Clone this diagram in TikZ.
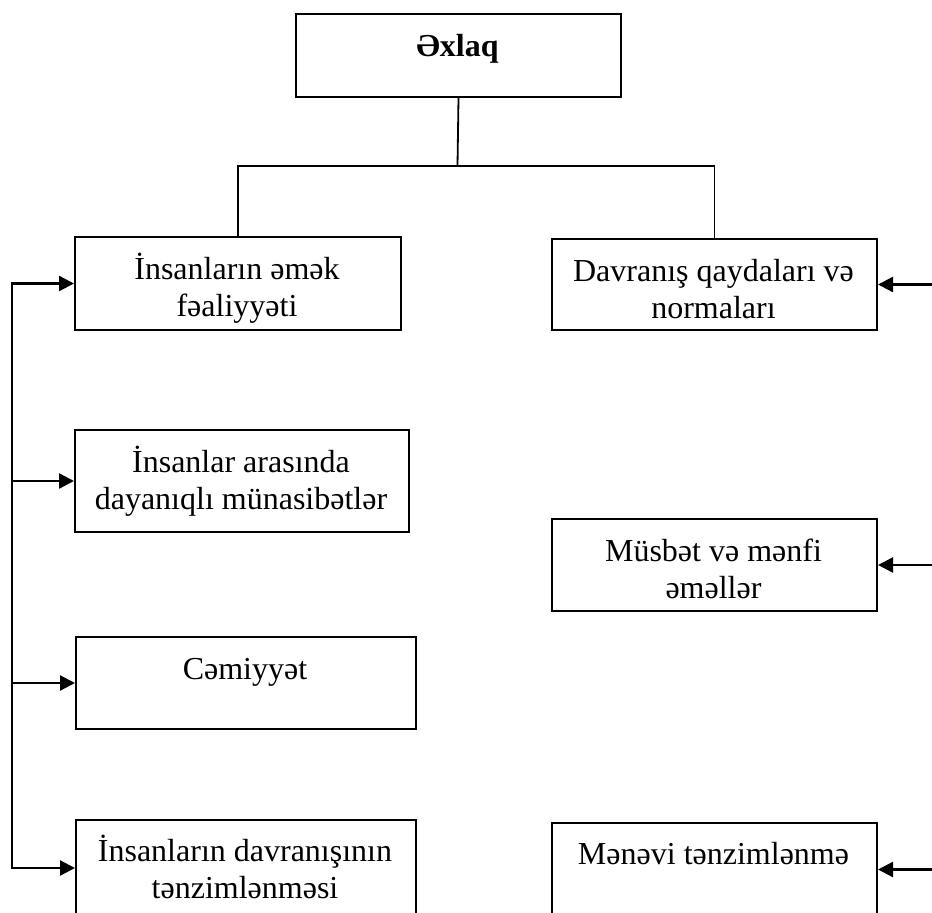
\documentclass[tikz,border=0pt]{standalone}
\usepackage{fontspec}
\setmainfont{Liberation Serif}
\usetikzlibrary{arrows.meta}
\begin{document}
\begin{tikzpicture}[x=1pt,y=-1pt,
  box/.style={draw, line width=2pt, anchor=north west, inner sep=0pt},
  lbl/.style={anchor=base, inner sep=0pt, align=center, font=\fontsize{32}{37}\selectfont},
  tree/.style={line width=1.8pt},
  spine/.style={line width=2.3pt, line cap=rect},
  arr/.style={line width=2.3pt, line cap=rect, -{Triangle[length=15pt,width=15pt]}}]
\useasboundingbox (0,0) rectangle (932,913);
% boxes (two-line labels are placed by the baseline of their last line)
\node[box, minimum width=325pt, minimum height=83pt] (top) at (295,13) {};
\node[lbl, font=\fontsize{32}{37}\selectfont\bfseries] (topt) at (457.5,56) {Əxlaq};

\node[box, minimum width=326pt, minimum height=93pt] (l1) at (74,236) {};
\node[lbl] (l1t) at (237,316) {İnsanların əmək\\fəaliyyəti};

\node[box, minimum width=325pt, minimum height=91pt] (r1) at (551,238) {};
\node[lbl] (r1t) at (713.5,318) {Davranış qaydaları və\\normaları};

\node[box, minimum width=334pt, minimum height=102pt] (l2) at (74,429) {};
\node[lbl] (l2t) at (241,509) {İnsanlar arasında\\dayanıqlı münasibətlər};

\node[box, minimum width=325pt, minimum height=92pt] (r2) at (551,518) {};
\node[lbl] (r2t) at (713.5,598) {Müsbət və mənfi\\əməllər};

\node[box, minimum width=340pt, minimum height=92pt] (l3) at (75,636) {};
\node[lbl] (l3t) at (245,679) {Cəmiyyət};

\node[box, minimum width=340pt, minimum height=96pt] (l4) at (75,819) {};
\node[lbl] (l4t) at (245,898) {İnsanların davranışının\\tənzimlənməsi};

\node[box, minimum width=325pt, minimum height=93pt] (r3) at (551,822) {};
\node[lbl] (r3t) at (713.5,864) {Mənəvi tənzimlənmə};

% tree connectors
\coordinate (j) at (457.5,166);
\draw[tree] (top.south) -- (j);
\draw[tree] (l1.north) |- (j) -| (r1.north);

% left spine and arrows
\coordinate (sp) at (12,0);
\draw[spine] (l1.west -| sp) -- (l4.west -| sp);
\draw[arr] (l1.west -| sp) -- (l1.west);
\draw[arr] (l2.west -| sp) -- (l2.west);
\draw[arr] (l3.west -| sp) -- (l3.west);
\draw[arr] (l4.west -| sp) -- (l4.west);

% right arrows
\coordinate (re) at (940,0);
\draw[arr] (r1.east -| re) -- (r1.east);
\draw[arr] (r2.east -| re) -- (r2.east);
\draw[arr] (r3.east -| re) -- (r3.east);
\end{tikzpicture}
\end{document}
